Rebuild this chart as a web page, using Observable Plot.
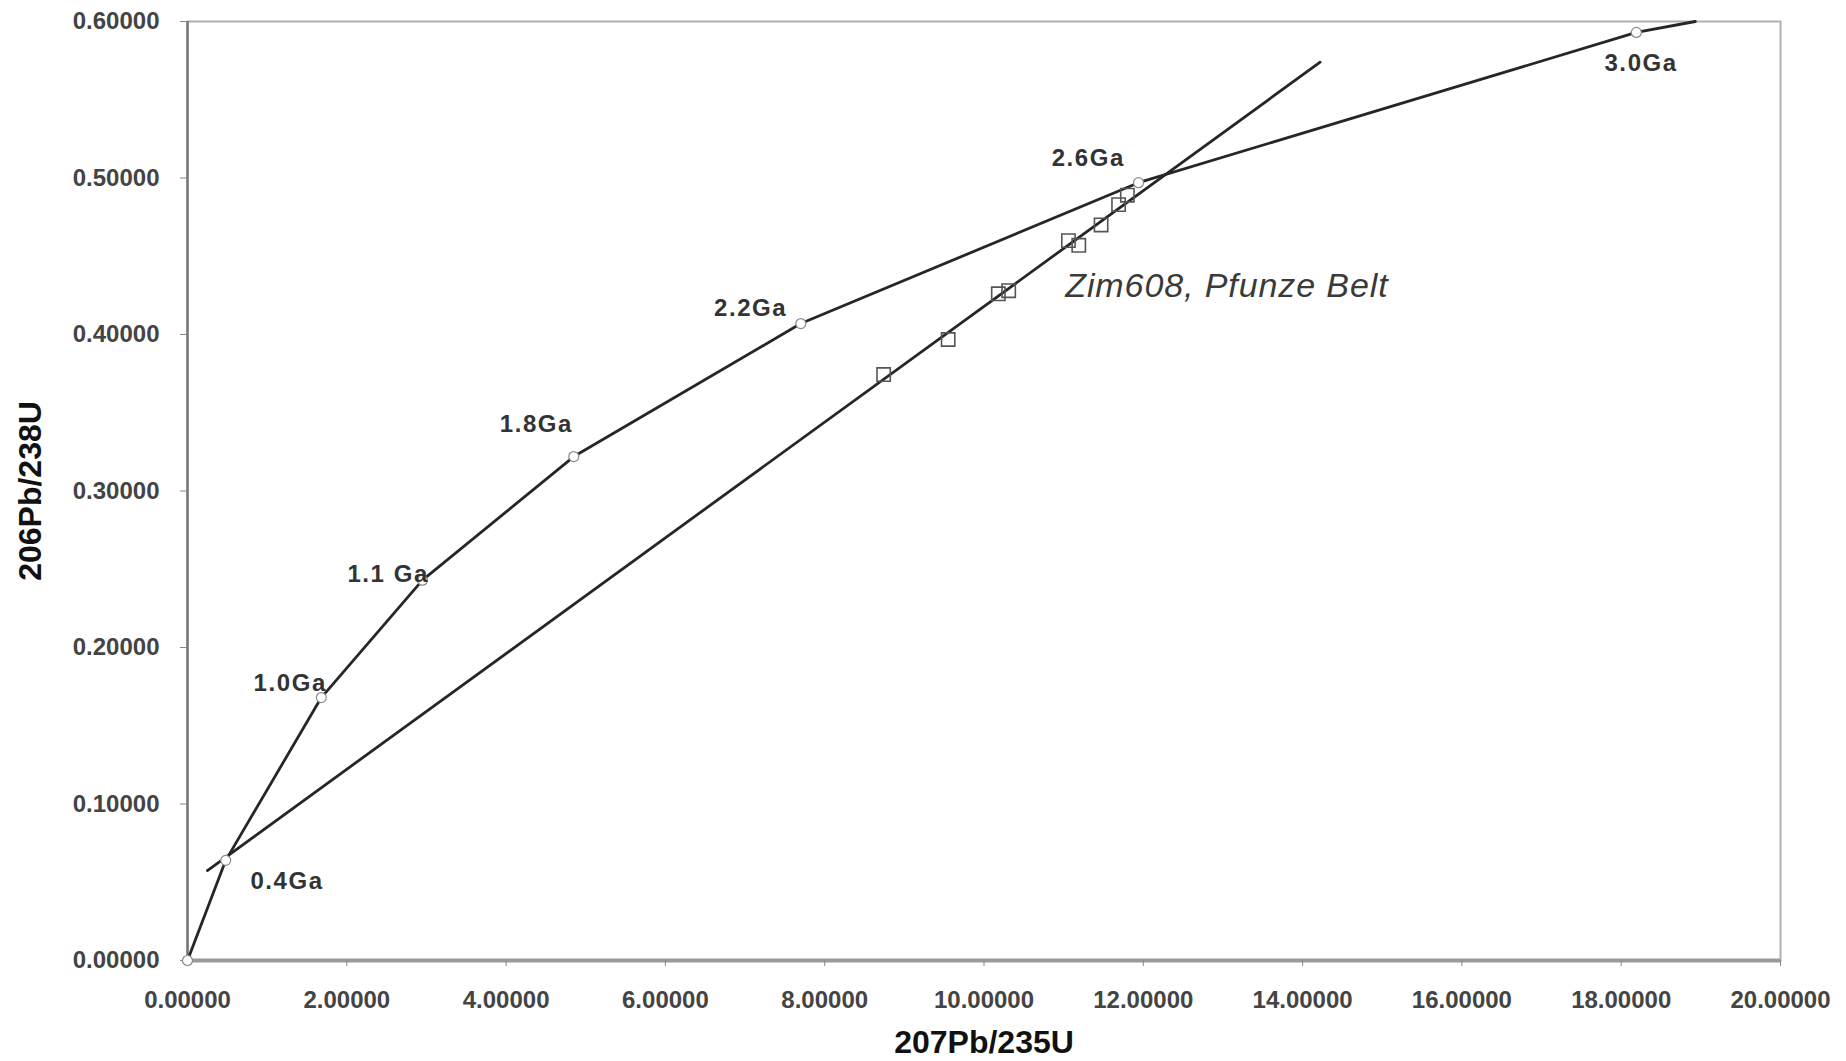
<!DOCTYPE html>
<html>
<head>
<meta charset="utf-8">
<script src="https://cdn.jsdelivr.net/npm/d3@7"></script>
<script src="https://cdn.jsdelivr.net/npm/@observablehq/plot@0.6"></script>
<style>
  html, body { margin: 0; padding: 0; background: #fff; }
  #chart svg { display: block; }
</style>
</head>
<body>
<div id="chart"></div>
<script>
// Concordia curve (207Pb/235U, 206Pb/238U)
const concordiaX = [0, 0.48, 1.68, 2.95, 4.85, 7.70, 11.94, 18.19, 18.93];
const concordiaY = [0, 0.064, 0.168, 0.243, 0.322, 0.407, 0.497, 0.593, 0.600];
// Age markers on the concordia (first 8 points)
const markerCount = 8;

// Age labels and their anchor positions (data units)
const ageLabels = ["0.4Ga", "1.0Ga", "1.1 Ga", "1.8Ga", "2.2Ga", "2.6Ga", "3.0Ga"];
const ageLabelX = [1.25, 1.29, 2.52, 4.38, 7.07, 11.31, 18.25];
const ageLabelY = [0.0505, 0.177, 0.247, 0.3425, 0.417, 0.5125, 0.5735];

// Discordia line end points
const discordiaX = [0.25, 14.22];
const discordiaY = [0.0575, 0.574];

// Sample analyses (Zim608)
const sampleX = [8.74, 9.55, 10.18, 10.31, 11.06, 11.19, 11.47, 11.69, 11.80];
const sampleY = [0.3744, 0.3968, 0.426, 0.428, 0.460, 0.457, 0.470, 0.483, 0.489];

const sampleName = "Zim608, Pfunze Belt";
const sampleNameX = 11.02;
const sampleNameY = 0.431;

// Axes
const xTicks = [0, 2, 4, 6, 8, 10, 12, 14, 16, 18, 20];
const yTicks = [0, 0.1, 0.2, 0.3, 0.4, 0.5, 0.6];
const xTitle = "207Pb/235U";
const yTitle = "206Pb/238U";

const fmt = d3.format(".5f");
const concordia = concordiaX.map((x, i) => ({x, y: concordiaY[i]}));
const markers = concordia.slice(0, markerCount);
const labels = ageLabels.map((t, i) => ({t, x: ageLabelX[i], y: ageLabelY[i]}));
const discordia = discordiaX.map((x, i) => ({x, y: discordiaY[i]}));
const samples = sampleX.map((x, i) => ({x, y: sampleY[i]}));

const chart = Plot.plot({
  width: 1846,
  height: 1061,
  marginLeft: 187,
  marginRight: 66,
  marginTop: 21,
  marginBottom: 101,
  style: {fontFamily: "'Liberation Sans', Arial, sans-serif", background: "#fff", color: "#222"},
  x: {domain: [0, 20]},
  y: {domain: [0, 0.6]},
  marks: [
    Plot.frame({stroke: "#b0b0b0", strokeWidth: 2}),
    Plot.ruleY([0], {stroke: "#9a9a9a", strokeWidth: 4}),
    Plot.ruleX([0], {stroke: "#777", strokeWidth: 2.5}),
    Plot.axisX(xTicks, {tickFormat: fmt, tickSize: 6, tickPadding: 24, fontSize: 24, fontWeight: "bold", fill: "#444", stroke: "#888", label: null}),
    Plot.axisY(yTicks, {tickFormat: fmt, tickSize: 7, tickPadding: 21, fontSize: 24, fontWeight: "bold", fill: "#444", stroke: "#888", label: null}),
    Plot.line(concordia, {x: "x", y: "y", stroke: "#262626", strokeWidth: 2.8}),
    Plot.line(discordia, {x: "x", y: "y", stroke: "#262626", strokeWidth: 2.8}),
    Plot.dot(markers, {x: "x", y: "y", r: 5, fill: "#fff", stroke: "#8a8a8a", strokeWidth: 1.2}),
    Plot.dot(samples, {x: "x", y: "y", symbol: "square", r: 7.5, fill: "none", stroke: "#555", strokeWidth: 1.6}),
    Plot.text(labels, {x: "x", y: "y", text: "t", fontSize: 24, fontWeight: "bold", fill: "#333"}),
    Plot.text([sampleName], {x: () => sampleNameX, y: () => sampleNameY, text: d => d, textAnchor: "start", fontSize: 34, fontStyle: "italic", fill: "#3a3a3a"}),
    Plot.text([xTitle], {frameAnchor: "bottom", text: d => d, dy: 92, fontSize: 32, fontWeight: "bold", fill: "#111"}),
    Plot.text([yTitle], {frameAnchor: "left", textAnchor: "middle", text: d => d, dx: -157, rotate: -90, fontSize: 32, fontWeight: "bold", fill: "#111"})
  ]
});
// letter spacing (styling only)
d3.select(chart).selectAll("text")
  .filter(function() { return this.textContent === sampleName; })
  .attr("letter-spacing", "0.9px");
d3.select(chart).selectAll("text")
  .filter(function() { return ageLabels.includes(this.textContent); })
  .attr("letter-spacing", "1.6px");
document.getElementById("chart").appendChild(chart);
</script>
</body>
</html>
